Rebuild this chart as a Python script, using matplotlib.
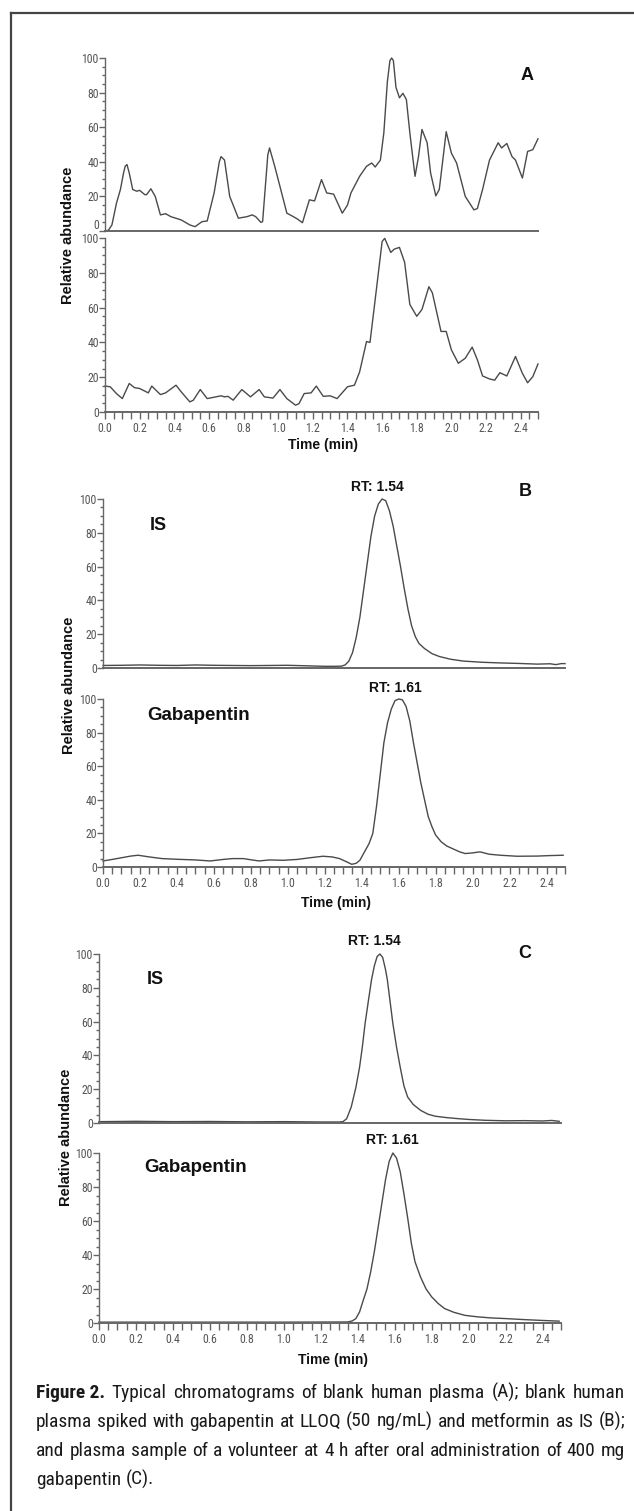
import matplotlib
matplotlib.use("Agg")
import matplotlib.pyplot as plt
import matplotlib.transforms as mtrans
from matplotlib import font_manager
from matplotlib.ticker import MultipleLocator
from matplotlib.lines import Line2D

W, H = 634, 1511

# ---------------- data ----------------
# Panel A, upper trace (blank plasma)
a1_t = [0.00, 0.02, 0.04, 0.066, 0.089, 0.108, 0.117, 0.127, 0.14, 0.16, 0.183, 0.20, 0.23, 0.24, 0.265, 0.29,
        0.32, 0.35, 0.38, 0.44, 0.49, 0.52, 0.56, 0.59, 0.63, 0.66, 0.67, 0.69, 0.72, 0.77, 0.82, 0.85,
        0.87, 0.90, 0.91, 0.94, 0.95, 0.98, 1.00, 1.05, 1.08, 1.11, 1.14, 1.18, 1.21, 1.25, 1.28, 1.32,
        1.37, 1.40, 1.42, 1.47, 1.51, 1.54, 1.56, 1.59, 1.61, 1.63, 1.645, 1.655, 1.665, 1.68, 1.70, 1.72,
        1.74, 1.76, 1.79, 1.81, 1.83, 1.86, 1.88, 1.91, 1.93, 1.97, 2.00, 2.03, 2.08, 2.13, 2.15,
        2.18, 2.22, 2.24, 2.27, 2.29, 2.32, 2.35, 2.37, 2.41, 2.44, 2.47, 2.50]
a1_v = [0.0, 0.5, 3.5, 16, 24, 34, 37.5, 38.4, 33.5, 24, 23, 23.5, 21, 21, 24.4, 20,
        9.3, 10, 8.3, 6.4, 3.5, 2.5, 5.4, 5.8, 22, 40, 43, 41, 20, 7.4, 8.3, 9.3,
        8.3, 5.0, 5.4, 44, 48, 37.4, 29.7, 10.3, 8.7, 7.0, 4.8, 18, 17.4, 29.7, 22, 21.3,
        10.3, 15, 22, 31.6, 37.4, 39.3, 37, 41, 56.8, 86, 98.5, 100, 98.5, 83, 77, 79.6,
        76, 56.8, 31.6, 43, 58.7, 51, 33.5, 20.3, 24, 57.4, 45, 39.3, 20, 12.2, 13,
        24, 41, 45, 51, 48, 50.6, 43, 41, 30.6, 46, 47, 53.3]

# Panel A, lower trace
a2_t = [0.00, 0.03, 0.066, 0.10, 0.14, 0.17, 0.20, 0.25, 0.27, 0.32, 0.35, 0.41, 0.44, 0.49, 0.51,
        0.55, 0.59, 0.64, 0.67, 0.69, 0.71, 0.74, 0.79, 0.84, 0.89, 0.92, 0.97, 1.01, 1.05, 1.10,
        1.12, 1.15, 1.19, 1.22, 1.26, 1.30, 1.34, 1.40, 1.44, 1.47, 1.51, 1.53, 1.56, 1.60, 1.615, 1.65,
        1.67, 1.70, 1.73, 1.76, 1.80, 1.83, 1.87, 1.89, 1.94, 1.97, 2.00, 2.04, 2.08, 2.12, 2.15,
        2.18, 2.22, 2.25, 2.28, 2.32, 2.37, 2.41, 2.44, 2.47, 2.50]
a2_v = [14.9, 14.5, 10.6, 7.7, 16.4, 14, 13.5, 11, 14.9, 10, 11, 15.4, 11.6, 5.8, 6.8,
        12.9, 7.7, 8.7, 9.3, 8.7, 9.0, 6.8, 12.9, 8.7, 12.9, 8.7, 8.0, 12.9, 7.7, 3.9,
        4.8, 10.6, 11, 14.9, 9.0, 9.3, 7.7, 14.5, 15.4, 23, 40.5, 40, 64.7, 98, 99.8, 91.7,
        93.6, 94.6, 86, 61.8, 55, 58.9, 72, 68.5, 46.3, 46.3, 35.7, 28, 30.9, 37.3, 30,
        20.7, 19, 18.3, 22.6, 20.7, 31.9, 22.2, 16.8, 20.3, 27.6]

# Panel B, IS trace
b1_t = [0.0, 0.1, 0.2, 0.3, 0.4, 0.5, 0.6, 0.7, 0.8, 0.9, 1.0, 1.1, 1.2, 1.25, 1.29, 1.31, 1.33, 1.35,
        1.37, 1.39, 1.41, 1.43, 1.45, 1.47, 1.49, 1.51, 1.53, 1.55, 1.57, 1.59, 1.61, 1.63, 1.65,
        1.67, 1.69, 1.71, 1.74, 1.78, 1.82, 1.88, 1.95, 2.05, 2.15, 2.25, 2.35, 2.42, 2.45, 2.48, 2.50]
b1_v = [1.5, 1.6, 1.8, 1.6, 1.5, 1.8, 1.6, 1.5, 1.4, 1.5, 1.6, 1.3, 1.0, 1.0, 1.1, 1.8, 4, 9,
        18, 30, 46, 62, 78, 90, 97, 100, 99, 93, 84, 72, 60, 47, 35,
        25, 18.5, 14.5, 11.5, 8.5, 6.8, 5.2, 4.1, 3.4, 3.0, 2.7, 2.3, 2.5, 2.0, 2.6, 2.6]

# Panel B, gabapentin trace
b2_t = [0.0, 0.05, 0.10, 0.15, 0.19, 0.25, 0.32, 0.40, 0.50, 0.58, 0.65, 0.70, 0.76, 0.80, 0.845,
        0.90, 0.976, 1.05, 1.12, 1.19, 1.24, 1.28, 1.32, 1.346, 1.37, 1.39, 1.42, 1.44, 1.46, 1.48,
        1.50, 1.52, 1.54, 1.56, 1.58, 1.60, 1.62, 1.64, 1.66, 1.68, 1.70, 1.72, 1.74, 1.76, 1.78,
        1.80, 1.83, 1.86, 1.89, 1.93, 1.96, 2.00, 2.04, 2.09, 2.15, 2.24, 2.35, 2.42, 2.49]
b2_v = [3.6, 4.5, 5.5, 6.5, 7.0, 6.0, 5.0, 4.6, 4.2, 3.6, 4.5, 5.0, 5.0, 4.3, 3.6,
        4.2, 4.0, 4.5, 5.5, 6.4, 6.0, 5.0, 3.0, 1.6, 2.2, 4.0, 10, 14, 20, 36,
        55, 74, 86, 94, 99, 100, 99.5, 95.6, 87, 74, 62, 50, 40, 30, 24,
        19, 15, 12.5, 11, 9, 8, 8.4, 9, 7.6, 7, 6.4, 6.5, 6.8, 7.0]

# Panel C, IS trace
c1_t = [0.0, 0.2, 0.4, 0.6, 0.8, 1.0, 1.2, 1.30, 1.32, 1.34, 1.365, 1.39, 1.41, 1.425, 1.44, 1.46,
        1.475, 1.49, 1.505, 1.52, 1.535, 1.55, 1.56, 1.575, 1.59, 1.61, 1.63, 1.65, 1.67, 1.70,
        1.74, 1.78, 1.82, 1.88, 1.94, 2.00, 2.09, 2.20, 2.30, 2.40, 2.45, 2.49]
c1_v = [0.8, 1.0, 0.8, 0.9, 0.7, 0.8, 0.6, 0.6, 0.8, 2.5, 9.5, 21, 33, 45, 59, 74,
        85, 93, 98.5, 100, 98, 91, 85, 72, 59, 45, 33, 22, 15.4, 11,
        7.5, 5.2, 4.0, 3.2, 2.6, 2.1, 1.6, 1.3, 1.4, 1.2, 1.5, 1.0]

# Panel C, gabapentin trace
c2_t = [0.0, 0.5, 1.0, 1.345, 1.37, 1.39, 1.41, 1.43, 1.45, 1.47, 1.49, 1.51, 1.53, 1.55, 1.57,
        1.59, 1.61, 1.63, 1.65, 1.67, 1.69, 1.71, 1.74, 1.77, 1.80, 1.835, 1.87, 1.92, 1.98, 2.05,
        2.12, 2.20, 2.30, 2.40, 2.49]
c2_v = [0.5, 0.5, 0.5, 0.6, 1.2, 2.6, 6.5, 13.4, 20, 30, 42, 56, 70, 84, 95,
        100, 97, 89, 76, 62, 47, 36, 27, 20, 15.4, 11.5, 8.5, 6.3, 4.5, 3.6,
        3.0, 2.6, 2.0, 1.5, 1.1]

x_tick_labels = ["0.0", "0.2", "0.4", "0.6", "0.8", "1.0", "1.2", "1.4", "1.6", "1.8", "2.0", "2.2", "2.4"]
y_tick_labels = ["0", "20", "40", "60", "80", "100"]
panel_letters = ["A", "B", "C"]
rt_labels = ["RT: 1.54", "RT: 1.61"]
trace_names = ["IS", "Gabapentin"]
caption_lines = [
    "Typical chromatograms of blank human plasma (A); blank human",
    "plasma spiked with gabapentin at LLOQ (50 ng/mL) and metformin as IS (B);",
    "and plasma sample of a volunteer at 4 h after oral administration of 400 mg",
    "gabapentin (C).",
]

# ---------------- fonts ----------------
names = {f.name for f in font_manager.fontManager.ttflist}
NARROW = "DejaVu Sans"
for cand in ["Liberation Sans Narrow", "Roboto Condensed", "Open Sans Condensed", "DejaVu Sans"]:
    if cand in names:
        NARROW = cand
        break
BOLD = "Liberation Sans" if "Liberation Sans" in names else "DejaVu Sans"

TRACE_C = "#4a4a4a"
SPINE_C = "#666666"
TICKLBL_C = "#555555"
TICK_FS = 8.5

fig = plt.figure(figsize=(W / 100, H / 100), dpi=100)
fig.patch.set_facecolor("white")


def fx(x):
    return x / W


def fy(y):
    return 1 - y / H


def make_ax(l, r, t, b, show_x, lift_zero=False):
    ax = fig.add_axes([fx(l), fy(b), (r - l) / W, (b - t) / H])
    ax.set_xlim(0, 2.5)
    ax.set_ylim(0, 100)
    for s in ["top", "right"]:
        ax.spines[s].set_visible(False)
    ax.spines["left"].set_color(SPINE_C)
    ax.spines["left"].set_linewidth(1.0)
    ax.spines["bottom"].set_color(SPINE_C)
    ax.spines["bottom"].set_linewidth(1.4)
    yt = [20 * i for i in range(len(y_tick_labels))]
    ax.set_yticks(yt)
    labels = list(y_tick_labels)
    if lift_zero:
        labels[0] = ""
    ax.set_yticklabels(labels, fontfamily=NARROW)
    ax.yaxis.set_minor_locator(MultipleLocator(5))
    ax.tick_params(axis="y", which="major", length=4, width=1.0, color=SPINE_C, pad=0.5,
                   labelsize=TICK_FS, labelcolor=TICKLBL_C)
    ax.tick_params(axis="y", which="minor", length=2.5, width=1.0, color=SPINE_C)
    if lift_zero:
        # the "0" sits just above the baseline so it clears the "100" of the trace below
        tr = mtrans.blended_transform_factory(ax.transAxes, ax.transData) + \
            mtrans.ScaledTranslation(-5.5 / 100, -1.0 / 100, fig.dpi_scale_trans)
        ax.text(0, yt[0], y_tick_labels[0], transform=tr, ha="right", va="bottom",
                fontsize=TICK_FS, color=TICKLBL_C, family=NARROW)
    if show_x:
        ax.set_xticks([0.2 * i for i in range(len(x_tick_labels))])
        ax.set_xticklabels(x_tick_labels, fontfamily=NARROW)
        ax.xaxis.set_minor_locator(MultipleLocator(0.05))
        ax.tick_params(axis="x", which="major", length=5, width=1.0, color=SPINE_C, pad=2,
                       labelsize=TICK_FS, labelcolor=TICKLBL_C)
        ax.tick_params(axis="x", which="minor", length=5, width=1.0, color=SPINE_C)
    else:
        ax.set_xticks([])
        ax.xaxis.set_minor_locator(matplotlib.ticker.NullLocator())
    ax.set_facecolor("none")
    return ax


def txt(x, y, s, size, weight="bold", ha="center", va="center", rot=0, family=None, color="#111111"):
    fig.text(fx(x), fy(y), s, fontsize=size, fontweight=weight, ha=ha, va=va, rotation=rot,
             family=family or BOLD, color=color)


LW = 1.0
# ---------------- panel A ----------------
axA1 = make_ax(105, 538, 58, 231, False, lift_zero=True)
axA1.plot(a1_t, a1_v, color=TRACE_C, lw=LW, clip_on=False)
axA2 = make_ax(105, 538, 238, 412, True)
axA2.plot(a2_t, a2_v, color=TRACE_C, lw=LW, clip_on=False)
txt(527, 76, panel_letters[0], 13)
txt(68, 235, "Relative abundance", 10.5, rot=90)
txt(323, 445, "Time (min)", 10)

# ---------------- panel B ----------------
axB1 = make_ax(103, 565, 499, 668, False)
axB1.plot(b1_t, b1_v, color=TRACE_C, lw=LW, clip_on=False)
axB2 = make_ax(103, 565, 699, 867, True)
axB2.plot(b2_t, b2_v, color=TRACE_C, lw=LW, clip_on=False)
txt(525, 491, panel_letters[1], 13)
txt(377, 487, rt_labels[0], 10)
txt(395, 688, rt_labels[1], 10)
txt(158, 526, trace_names[0], 13)
txt(199, 715, trace_names[1], 13.5)
txt(69, 685, "Relative abundance", 10.5, rot=90)
txt(336, 903, "Time (min)", 10)

# ---------------- panel C ----------------
axC1 = make_ax(99, 561, 954, 1123, False)
axC1.plot(c1_t, c1_v, color=TRACE_C, lw=LW, clip_on=False)
axC2 = make_ax(99, 561, 1153, 1323, True)
axC2.plot(c2_t, c2_v, color=TRACE_C, lw=LW, clip_on=False)
txt(525, 953, panel_letters[2], 13)
txt(374, 941, rt_labels[0], 10)
txt(392, 1140, rt_labels[1], 10)
txt(155, 979, trace_names[0], 13)
txt(196, 1168, trace_names[1], 13.5)
txt(66, 1137, "Relative abundance", 10.5, rot=90)
txt(333, 1360, "Time (min)", 10)

# ---------------- frame ----------------
fig.add_artist(Line2D([fx(11), fx(634)], [fy(13), fy(13)], color="#444444", lw=1.6))
fig.add_artist(Line2D([fx(11), fx(11)], [fy(13), fy(1511)], color="#444444", lw=1.6))

# ---------------- caption (justified, size fitted to width) ----------------
renderer = fig.canvas.get_renderer()
left_px, right_px = 36, 625
baselines = [1398, 1427, 1456, 1485]
cap_color = "#1a1a1a"


def width_of(s, size, weight="normal"):
    t = fig.text(0, 0, s, fontsize=size, fontweight=weight, family=NARROW)
    w = t.get_window_extent(renderer).width
    t.remove()
    return w


def line_items(i, line):
    items = []
    if i == 0:
        items.append(("Figure 2.", "bold"))
    items += [(w, "normal") for w in line.split(" ")]
    return items


base = 10.0
space_base = width_of("a b", base) - width_of("ab", base)
nat = []
for i, line in enumerate(caption_lines[:-1]):
    its = line_items(i, line)
    nat.append(sum(width_of(w, base, wt) for w, wt in its) + space_base * (len(its) - 1))
CAP_SIZE = base * (right_px - left_px) / max(nat) * 0.985
CAP_SIZE = min(CAP_SIZE, 14.5)

space = width_of("a b", CAP_SIZE) - width_of("ab", CAP_SIZE)
for i, line in enumerate(caption_lines):
    items = line_items(i, line)
    widths = [width_of(w, CAP_SIZE, wt) for w, wt in items]
    total = sum(widths)
    gaps = len(items) - 1
    if i < len(caption_lines) - 1 and gaps > 0:
        gap = (right_px - left_px - total) / gaps
    else:
        gap = space
    x = left_px
    for (w, wt), wd in zip(items, widths):
        fig.text(fx(x), fy(baselines[i]), w, fontsize=CAP_SIZE, fontweight=wt, family=NARROW,
                 ha="left", va="baseline", color=cap_color)
        x += wd + gap

fig.savefig("out.png", dpi=100, facecolor="white")
